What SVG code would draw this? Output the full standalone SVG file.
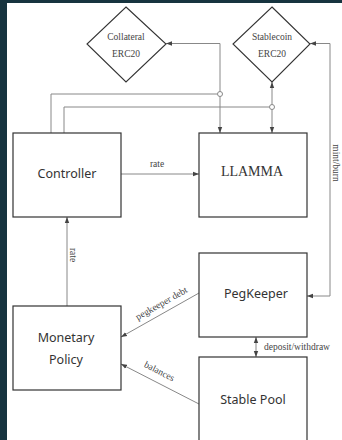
<svg xmlns="http://www.w3.org/2000/svg" width="342" height="440" viewBox="0 0 342 440">
<style>
.box{fill:none;stroke:#333;stroke-width:1.2}
.dia{fill:none;stroke:#333;stroke-width:1.1}
.con{fill:none;stroke:#888;stroke-width:1}
.sans{font-family:"Noto Sans","Open Sans",sans-serif;font-size:12.5px;fill:#333;text-anchor:middle}
.serif{font-family:"Liberation Serif","Times New Roman",serif;fill:#333;text-anchor:middle}
.lbl{font-family:"Liberation Serif","Times New Roman",serif;font-size:9.5px;fill:#444;text-anchor:middle}
</style>
<defs>
<marker id="ah" viewBox="0 0 6 6" refX="6" refY="3" markerWidth="6" markerHeight="6" orient="auto-start-reverse" markerUnits="userSpaceOnUse">
<path d="M0,0.8 L6,3 L0,5.2 Z" fill="#444"/>
</marker>
</defs>
<rect x="0" y="0" width="342" height="440" fill="#17343f"/>
<rect x="7" y="3" width="335" height="437" fill="#ffffff"/>
<g id="connectors">
<path class="con" d="M166,43.5 H220 V133" marker-start="url(#ah)" marker-end="url(#ah)"/>
<path class="con" d="M272,82 V133" marker-start="url(#ah)" marker-end="url(#ah)"/>
<path class="con" d="M51,133 V94 H217.5"/>
<circle cx="220" cy="94" r="2.5" fill="#fff" stroke="#888" stroke-width="1"/>
<path class="con" d="M64,133 V107 H269.5"/>
<circle cx="272" cy="107" r="2.5" fill="#fff" stroke="#888" stroke-width="1"/>
<path class="con" d="M310,43.5 H330 V296 H307" marker-start="url(#ah)" marker-end="url(#ah)"/>
<text class="lbl" transform="translate(333,163) rotate(90)">mint/burn</text>
<path class="con" d="M121,174 H199" marker-end="url(#ah)"/>
<text class="lbl" x="157" y="167">rate</text>
<path class="con" d="M67,306 V217" marker-end="url(#ah)"/>
<text class="lbl" transform="translate(70,255) rotate(90)">rate</text>
<path class="con" d="M199,293 L121,337" marker-end="url(#ah)"/>
<text class="lbl" transform="translate(163,306) rotate(-29.4)">pegkeeper debt</text>
<path class="con" d="M199,404 L121,364" marker-end="url(#ah)"/>
<text class="lbl" transform="translate(158,374) rotate(27)">balances</text>
<path class="con" d="M256,337 V357" marker-start="url(#ah)" marker-end="url(#ah)"/>
<text class="lbl" x="297" y="350">deposit/withdraw</text>
</g>
<g id="collateral">
<polygon class="dia" points="126,7 166,44 126,82 87,44"/>
<text class="lbl" x="126" y="40">Collateral</text>
<text class="lbl" x="126" y="57">ERC20</text>
</g>
<g id="stablecoin">
<polygon class="dia" points="272,7 310,44 272,82 233,44"/>
<text class="lbl" x="272" y="40">Stablecoin</text>
<text class="lbl" x="272" y="57">ERC20</text>
</g>
<g id="controller">
<rect class="box" x="13" y="133" width="108" height="84"/>
<text class="sans" x="67" y="178">Controller</text>
</g>
<g id="llamma">
<rect class="box" x="199" y="133" width="108" height="84"/>
<text class="serif" x="252" y="176" font-size="14">LLAMMA</text>
</g>
<g id="monetary">
<rect class="box" x="13" y="306" width="108" height="84"/>
<text class="sans" x="66" y="342">Monetary</text>
<text class="sans" x="66" y="364">Policy</text>
</g>
<g id="pegkeeper">
<rect class="box" x="199" y="253" width="108" height="84"/>
<text class="sans" x="256" y="298">PegKeeper</text>
</g>
<g id="stablepool">
<rect class="box" x="199" y="357" width="108" height="90"/>
<text class="sans" x="253" y="404">Stable Pool</text>
</g>
</svg>
